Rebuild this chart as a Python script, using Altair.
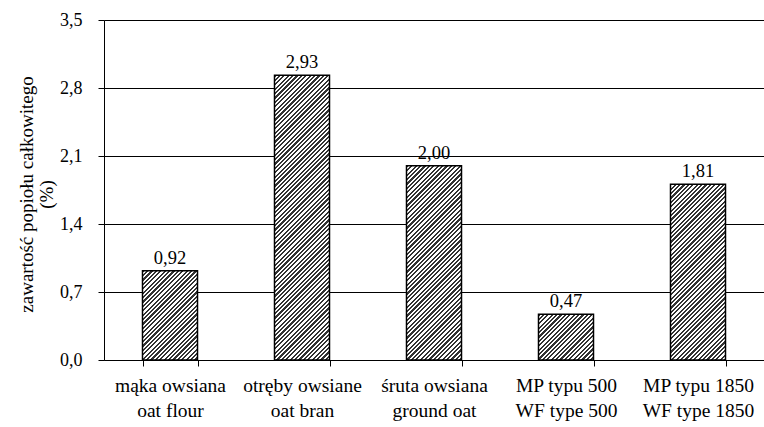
import altair as alt
import pandas as pd

# ---- data ----
cats_pl = ["mąka owsiana", "otręby owsiane", "śruta owsiana", "MP typu 500", "MP typu 1850"]
cats_en = ["oat flour", "oat bran", "ground oat", "WF type 500", "WF type 1850"]
values = [0.92, 2.93, 2.00, 0.47, 1.81]
value_labels = ["0,92", "2,93", "2,00", "0,47", "1,81"]
y_ticks = [0.0, 0.7, 1.4, 2.1, 2.8, 3.5]
y_title = ["zawartość popiołu całkowitego", "(%)"]

# ---- layout / style ----
W, H = 660, 340
YMAX = 3.5
BAR_W = 55
PERIOD = 4.4
FONT = "Liberation Serif"
STEP = W / len(values)
P_IN = 1 - BAR_W / STEP

cats = [p + "|" + e for p, e in zip(cats_pl, cats_en)]
df = pd.DataFrame({"cat": cats, "value": values, "label": value_labels})


def hatch(v):
    h = v * H / YMAX
    w = BAR_W
    s = (1 / h + 1 / w) / (1 / h ** 2 + 1 / w ** 2)
    n = (w + h) / PERIOD
    stops = []
    k = 0
    while k < n:
        a = min(k / n, 1)
        b = min((k + 0.5) / n, 1)
        c = min((k + 1) / n, 1)
        stops += [("#333333", a), ("#333333", b), ("#ffffff", b), ("#ffffff", c)]
        k += 1
    return alt.Gradient(
        gradient="linear", x1=0, y1=0, x2=s / h, y2=s / w,
        stops=[alt.GradientStop(color=col, offset=o) for col, o in stops],
    )


x_enc = alt.X(
    "cat:N", sort=cats,
    scale=alt.Scale(domain=cats, paddingInner=P_IN, paddingOuter=P_IN / 2),
    axis=alt.Axis(
        title=None, labelExpr="split(datum.label, '|')", labelAngle=0,
        labelFont=FONT, labelFontSize=19.5, labelColor="black",
        labelLineHeight=25, labelBaseline="alphabetic", labelPadding=25,
        tickBand="extent", tickSize=6, tickColor="black",
        domainColor="black", domainWidth=1, grid=False,
    ),
)
y_enc = alt.Y(
    "value:Q",
    scale=alt.Scale(domain=[0, YMAX], nice=False, zero=True),
    axis=alt.Axis(
        values=y_ticks, labelExpr="replace(format(datum.value, '.1f'), '.', ',')",
        labelFont=FONT, labelFontSize=18, labelColor="black", labelPadding=16,
        tickSize=6, tickColor="black", domainColor="black",
        grid=True, gridColor="#000000", gridWidth=1,
        title=y_title, titleFont=FONT, titleFontSize=19, titleFontWeight="normal",
        titleColor="black", titleLineHeight=20, titleBaseline="alphabetic",
        titleAngle=270, titleAlign="center", titleX=-72, titleY=174,
    ),
)

layers = []
for c, v in zip(cats, values):
    layers.append(
        alt.Chart(df).transform_filter(alt.datum.cat == c)
        .mark_bar(fill=hatch(v), stroke="black", strokeWidth=1.5)
        .encode(x=x_enc, y=y_enc)
    )

text = alt.Chart(df).mark_text(
    font=FONT, fontSize=18.5, baseline="alphabetic", dy=-7, color="black"
).encode(x=x_enc, y=y_enc, text="label:N")

chart = alt.layer(*layers, text).properties(
    width=W, height=H, autosize="none",
    padding={"left": 104, "top": 20, "right": 0, "bottom": 67},
).configure_view(stroke=None).configure(background="white")

chart.save("out.html", embed_options={"renderer": "svg", "actions": False})
